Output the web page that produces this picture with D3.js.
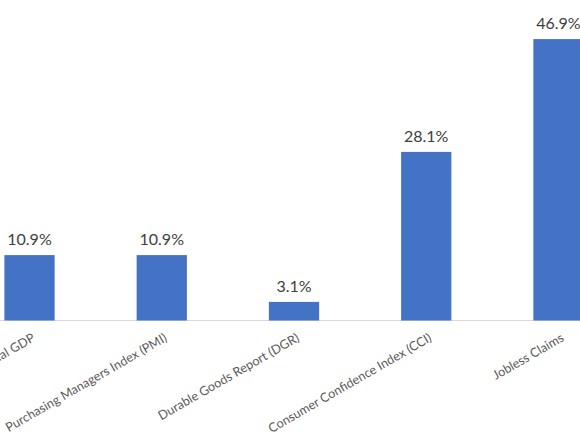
<!DOCTYPE html>
<html>
<head>
<meta charset="utf-8">
<script src="https://cdn.jsdelivr.net/npm/d3@7"></script>
<style>
  body { margin: 0; background: #fff; }
  svg { display: block; }
</style>
</head>
<body>
<script>
// chart size
const w = 580;
const h = 435;

// data
const categories = ["Real GDP", "Purchasing Managers Index (PMI)", "Durable Goods Report (DGR)", "Consumer Confidence Index (CCI)", "Jobless Claims"];
const values = [10.9, 10.9, 3.1, 28.1, 46.9];
const valueLabels = ["10.9%", "10.9%", "3.1%", "28.1%", "46.9%"];

const baseY = 320.5;

// scales (chart is cropped on both sides, so range runs past the edges)
var x = d3.scaleBand()
  .domain(categories)
  .range([-36.6, 624.6])
  .paddingInner(0.62)
  .paddingOuter(0.31);

var y = d3.scaleLinear()
  .domain([0, 50])
  .range([baseY, baseY - 300]);

var svg = d3.select("body")
  .append("svg")
  .attr("width", w)
  .attr("height", h);

// baseline
svg.append("line")
  .attr("x1", 0)
  .attr("x2", w)
  .attr("y1", baseY)
  .attr("y2", baseY)
  .attr("stroke", "#d9d9d9")
  .attr("stroke-width", 1);

// bars
svg.selectAll("rect.bar")
  .data(values)
  .enter()
  .append("rect")
  .attr("class", "bar")
  .attr("x", function(d, i) { return x(categories[i]); })
  .attr("width", x.bandwidth())
  .attr("y", function(d) { return y(d); })
  .attr("height", function(d) { return baseY - y(d); })
  .attr("fill", "#4472c4");

// value labels
svg.selectAll("text.val")
  .data(values)
  .enter()
  .append("text")
  .attr("class", "val")
  .attr("x", function(d, i) { return x(categories[i]) + x.bandwidth() / 2; })
  .attr("y", function(d) { return y(d) - 10; })
  .attr("text-anchor", "middle")
  .style("font-family", "Lato, 'Open Sans', sans-serif")
  .style("font-size", "16px")
  .style("fill", "#404040")
  .text(function(d, i) { return valueLabels[i]; });

// category labels, rotated
svg.selectAll("text.cat")
  .data(categories)
  .enter()
  .append("text")
  .attr("class", "cat")
  .attr("transform", function(d) {
    return "translate(" + (x(d) + x.bandwidth() / 2 + 4) + "," + (baseY + 16) + ") rotate(-30)";
  })
  .attr("text-anchor", "end")
  .attr("dy", "0.35em")
  .style("font-family", "Lato, 'Open Sans', sans-serif")
  .style("font-size", "12.6px")
  .style("fill", "#595959")
  .text(function(d) { return d; });
</script>
</body>
</html>
